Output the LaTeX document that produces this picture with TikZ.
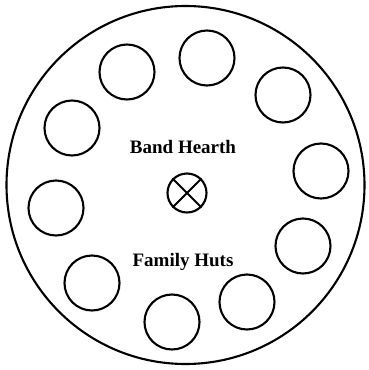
\documentclass[tikz,border=0pt]{standalone}
\usepackage{fontspec}
\setmainfont{Liberation Serif}
\begin{document}
\begin{tikzpicture}[x=1pt,y=-1pt]

% Layout constants
\def\cr{358pt}  % camp circle diameter
\def\hd{55pt}   % hut diameter
\def\fd{39pt}   % hearth diameter
\def\lw{2.1pt}  % line width

\tikzset{
  hut/.style={draw, circle, line width=\lw, minimum size=\hd, inner sep=0pt},
  hearthmark/.style={draw, circle, line width=\lw, minimum size=\fd, inner sep=0pt},
  lbl/.style={font=\fontsize{19}{21}\selectfont\bfseries, inner sep=0pt}
}

\useasboundingbox (0,0) rectangle (369,370);

%% ---- camp boundary -------------------------
\node[draw, circle, line width=\lw, minimum size=\cr, inner sep=0pt] (camp) at (185.5,185) {};

%% ---- family huts round the ring ------------
\foreach \n/\x/\y in {1/207/58, 2/127/72, 3/283/95, 4/72/128, 5/321/171,
                      6/56/208, 7/303/246, 8/92/283, 9/247/302, 10/172/322} {
  \node[hut] (hut\n) at (\x,\y) {};
}

%% ---- band hearth ---------------------------
\node[hearthmark] (hearth) at (187,193) {};
\draw[line width=\lw] (hearth.north west) -- (hearth.south east);
\draw[line width=\lw] (hearth.north east) -- (hearth.south west);

%% ---- labels --------------------------------
\node[lbl] (hearthlbl) at (183,147) {Band Hearth};
\node[lbl] (hutlbl) at (183,262) {Family Huts};

\end{tikzpicture}
\end{document}
